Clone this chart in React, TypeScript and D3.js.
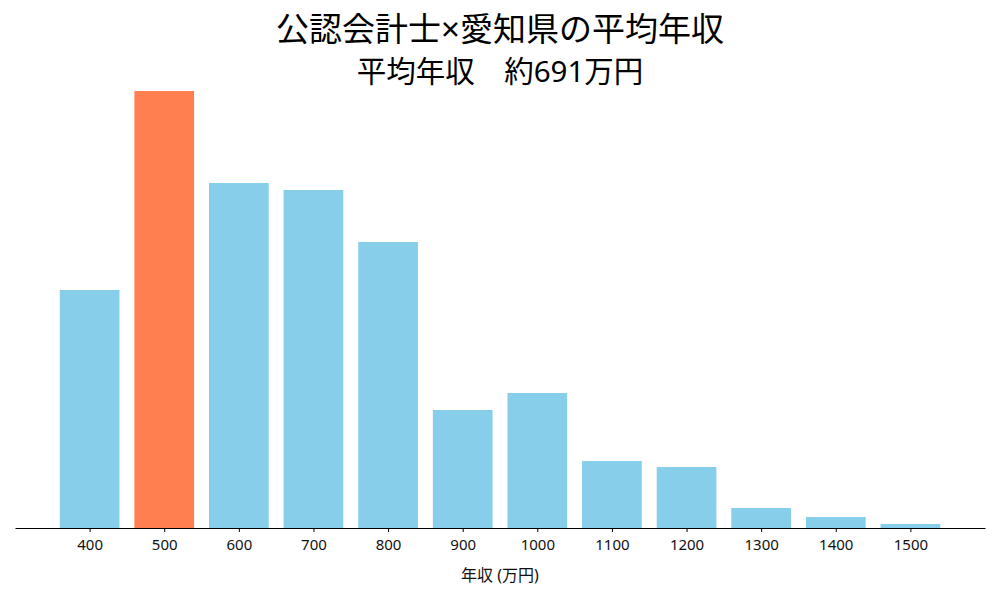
import { useEffect, useRef } from 'react'
import * as d3 from 'd3'

const categories = [400, 500, 600, 700, 800, 900, 1000, 1100, 1200, 1300, 1400, 1500]
const shares = [23.8, 43.7, 34.5, 33.8, 28.6, 11.8, 13.5, 6.7, 6.1, 2.0, 1.1, 0.4]
const highlight = 500
const title = '公認会計士×愛知県の平均年収'
const subtitle = '平均年収　約691万円'
const xLabel = '年収 (万円)'

const FONT = '"Noto Sans", "Noto Sans CJK JP", sans-serif'

export default function App() {
  const svgRef = useRef<SVGSVGElement>(null)

  useEffect(() => {
    if (!svgRef.current) return
    const svg = d3.select(svgRef.current)
    svg.selectAll('*').remove()

    const width = 1000
    const height = 600
    const baseline = 528

    const x = d3.scaleLinear().domain([300, 1600]).range([15, 985])
    const y = d3.scaleLinear().domain([0, 45.9]).range([baseline, 69])
    const barW = x(380) - x(300)

    svg.append('rect').attr('width', width).attr('height', height).attr('fill', '#fff')

    svg.append('g')
      .selectAll('rect')
      .data(categories)
      .join('rect')
      .attr('x', d => x(d) - barW / 2)
      .attr('y', (_, i) => y(shares[i]))
      .attr('width', barW)
      .attr('height', (_, i) => baseline - y(shares[i]))
      .attr('fill', d => (d === highlight ? '#FF7F50' : '#87CEEB'))

    const axis = svg.append('g')
      .attr('transform', `translate(0, ${baseline})`)
      .attr('font-size', 15)
      .call(d3.axisBottom(x).tickValues(categories).tickSize(4).tickSizeOuter(0).tickPadding(7).tickFormat(d => `${d}`))
    axis.select('.domain').attr('stroke', '#000').attr('stroke-width', 1.2)
    axis.selectAll('.tick line').attr('stroke', '#000')
    axis.selectAll('.tick text')
      .attr('fill', '#111')
      .style('font-family', FONT)
      .style('font-size', '15px')

    svg.append('text')
      .attr('x', 500)
      .attr('y', 581)
      .attr('text-anchor', 'middle')
      .style('font-family', FONT)
      .style('font-size', '16px')
      .attr('fill', '#111')
      .text(xLabel)

    svg.append('text')
      .attr('x', 500)
      .attr('y', 41)
      .attr('text-anchor', 'middle')
      .style('font-family', FONT)
      .style('font-size', '33px')
      .attr('fill', '#000')
      .text(title)

    svg.append('text')
      .attr('x', 500)
      .attr('y', 82)
      .attr('text-anchor', 'middle')
      .style('font-family', FONT)
      .style('font-size', '29.5px')
      .attr('fill', '#000')
      .text(subtitle)
  }, [])

  return (
    <div style={{ position: 'absolute', left: 0, top: 0 }}>
      <svg ref={svgRef} width={1000} height={600} style={{ display: 'block' }} />
    </div>
  )
}
